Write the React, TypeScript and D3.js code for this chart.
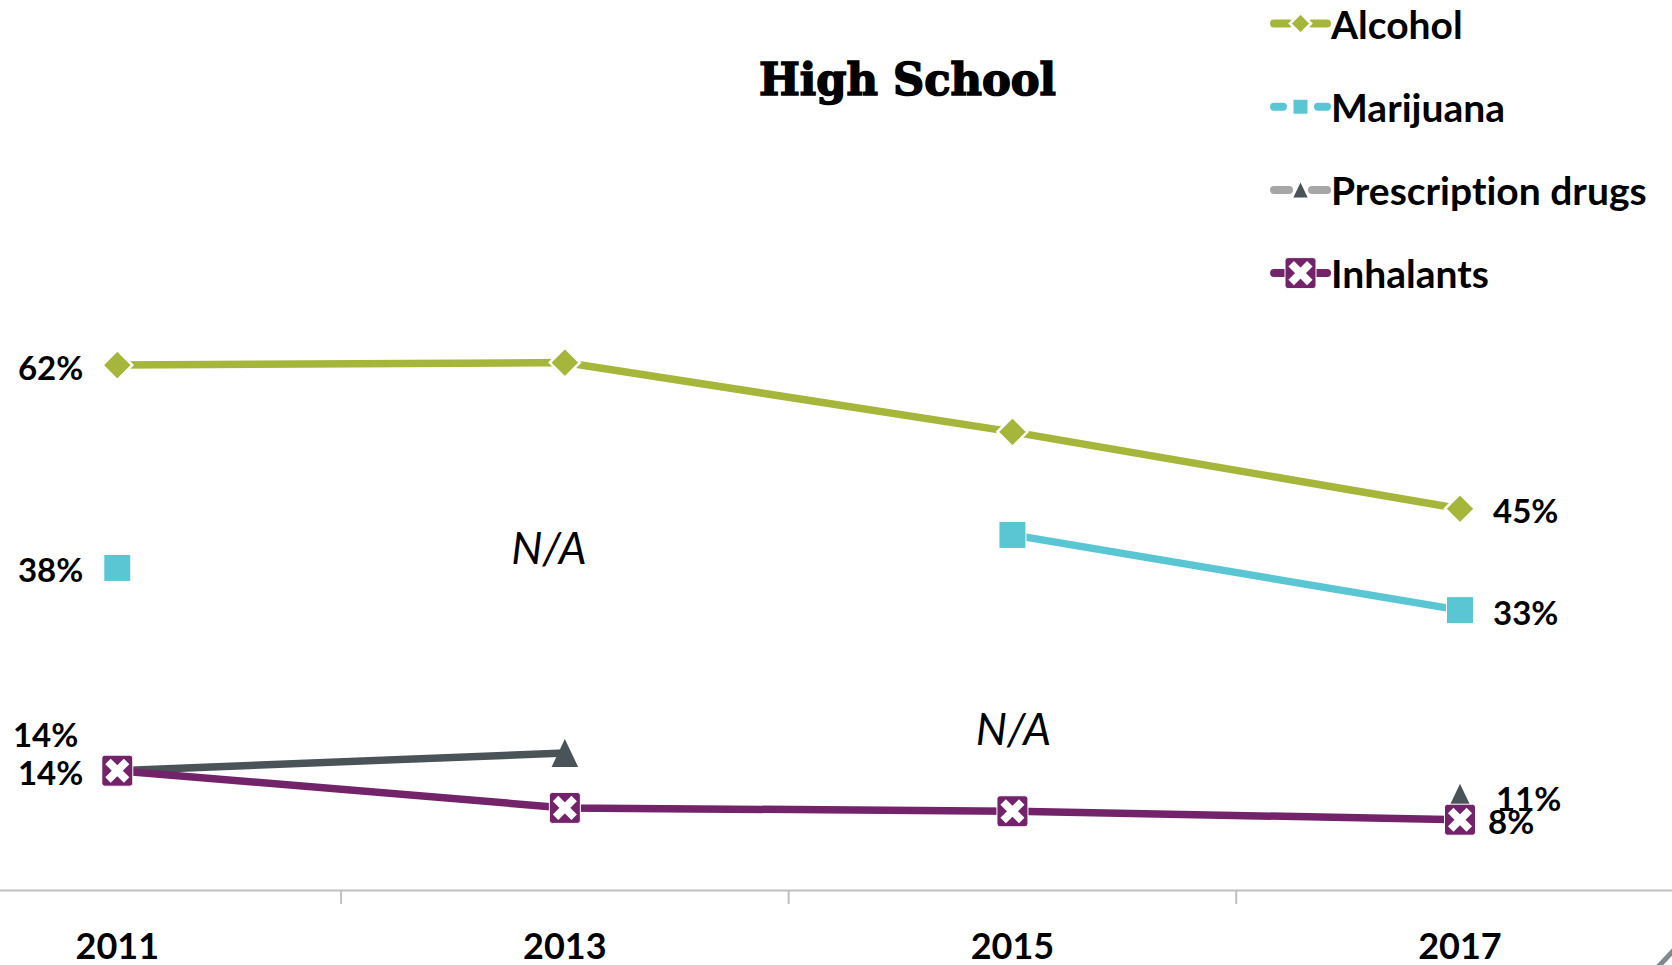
import * as d3 from "d3";

const years = ["2011", "2013", "2015", "2017"];
const alcohol: (number | null)[] = [62, 62.3, 54.1, 45];
const marijuana: (number | null)[] = [38, null, 41.9, 33];
const prescription: (number | null)[] = [14, 16.1, null, 10.8];
const inhalants: (number | null)[] = [14, 9.6, 9.2, 8.2];
const naYears = ["2013", "2015"];

type Marker = "diamond" | "square" | "triangle" | "cross";
type Series = {
  name: string;
  values: (number | null)[];
  color: string;
  legendColor: string;
  marker: Marker;
  dashed?: boolean;
};

const series: Series[] = [
  { name: "Alcohol", values: alcohol, color: "#a5b63a", legendColor: "#a5b63a", marker: "diamond" },
  { name: "Marijuana", values: marijuana, color: "#5ac6d3", legendColor: "#5ac6d3", marker: "square", dashed: true },
  { name: "Prescription drugs", values: prescription, color: "#4a5358", legendColor: "#a6a6a6", marker: "triangle" },
  { name: "Inhalants", values: inhalants, color: "#73236a", legendColor: "#73236a", marker: "cross" },
];

const W = 1672;
const H = 965;
const FONT = "Lato, 'Noto Sans', sans-serif";

// marker drawn centred on 0,0
const MarkerShape = ({ type, size, color, mark }: { type: Marker; size: number; color: string; mark: string }) => {
  const h = size / 2;
  if (type === "diamond")
    return <path d={`M0,${-h}L${h},0L0,${h}L${-h},0Z`} fill={color} stroke="#fff" strokeWidth={2.5} />;
  if (type === "square")
    return <rect x={-h} y={-h} width={size} height={size} fill={color} stroke="#fff" strokeWidth={1} />;
  if (type === "triangle")
    return <path d={`M0,${-h}L${h * 0.95},${h}L${-h * 0.95},${h}Z`} fill={mark} />;
  const c = h * 0.6;
  return (
    <g>
      <rect x={-h} y={-h} width={size} height={size} rx={3} fill={color} stroke="#fff" strokeWidth={1} />
      <path d={`M${-c},${-c}L${c},${c}M${c},${-c}L${-c},${c}`} stroke="#fff" strokeWidth={size * 0.25} />
    </g>
  );
};

const App = () => {
  const x = d3.scaleBand<string>().domain(years).range([-106.5, 1683.8]).padding(0);
  const cx = (yr: string) => (x(yr) ?? 0) + x.bandwidth() / 2;
  const y = d3.scaleLinear().domain([0, 100]).range([889, 44]);

  const line = d3
    .line<number | null>()
    .defined((d) => d != null)
    .x((_, i) => cx(years[i]))
    .y((d) => y(d as number));

  const markerSize: Record<Marker, number> = { diamond: 30, square: 27, triangle: 28, cross: 31 };
  const legendSize: Record<Marker, number> = { diamond: 21, square: 15, triangle: 15, cross: 31 };

  // label offsets (dx, dy) at first / last point, tweaked where labels collide
  const leftLabel: Record<string, [number, number]> = {
    Alcohol: [-34, 2],
    Marijuana: [-34, 1],
    "Prescription drugs": [-39, -37],
    Inhalants: [-34, 1],
  };
  const rightLabel: Record<string, [number, number]> = {
    Alcohol: [33, 1],
    Marijuana: [33, 2],
    "Prescription drugs": [36, 0],
    Inhalants: [28, 1],
  };

  const ticks = years.slice(1).map((yr) => x(yr) ?? 0);

  return (
    <svg
      width={W}
      height={H}
      style={{ position: "absolute", left: 0, top: 0, background: "#fff", fontVariantLigatures: "none" }}
    >
      <rect width={W} height={H} fill="#fff" />

      {/* title */}
      <text
        x={907.5}
        y={95}
        textAnchor="middle"
        fontFamily="'DejaVu Serif', serif"
        fontWeight="bold"
        fontSize={44}
        textLength={297}
        lengthAdjust="spacingAndGlyphs"
        fill="#000"
        stroke="#000"
        strokeWidth={1.6}
      >
        High School
      </text>

      {/* category axis */}
      <line x1={0} x2={W} y1={y(0) + 1.5} y2={y(0) + 1.5} stroke="#bfbfbf" strokeWidth={2} />
      {ticks.map((t, i) => (
        <line key={i} x1={t} x2={t} y1={y(0) + 1.5} y2={y(0) + 15} stroke="#bfbfbf" strokeWidth={2} />
      ))}
      {years.map((yr) => (
        <text
          key={yr}
          x={cx(yr)}
          y={959}
          textAnchor="middle"
          fontFamily={FONT}
          fontWeight="bold"
          fontSize={36}
          fill="#000"
        >
          {yr}
        </text>
      ))}

      {/* N/A notes */}
      {naYears.map((yr, i) => (
        <text
          key={yr}
          x={cx(yr) + (i === 0 ? -16 : 1)}
          y={i === 0 ? 547 : 728}
          textAnchor="middle"
          dominantBaseline="central"
          fontFamily={FONT}
          fontStyle="italic"
          fontSize={44}
          fill="#000"
        >
          N/A
        </text>
      ))}

      {/* lines */}
      {series.map((s) => (
        <path key={s.name} d={line(s.values) ?? ""} fill="none" stroke={s.color} strokeWidth={7.5} />
      ))}

      {/* markers */}
      {series.map((s) =>
        s.values.map((v, i) =>
          v == null ? null : (
            <g key={s.name + i} transform={`translate(${cx(years[i])},${y(v)})`}>
              <MarkerShape type={s.marker} size={markerSize[s.marker]} color={s.color} mark={s.color} />
            </g>
          )
        )
      )}

      {/* data labels */}
      {series.map((s) => {
        const first = s.values[0] as number;
        const lastIdx = s.values.length - 1;
        const last = s.values[lastIdx] as number;
        const [lx, ly] = leftLabel[s.name];
        const [rx, ry] = rightLabel[s.name];
        return (
          <g key={s.name} fontFamily={FONT} fontWeight="bold" fontSize={33} fill="#000">
            <text x={cx(years[0]) + lx} y={y(first) + ly} textAnchor="end" dominantBaseline="central">
              {Math.round(first)}%
            </text>
            <text x={cx(years[lastIdx]) + rx} y={y(last) + ry} textAnchor="start" dominantBaseline="central">
              {Math.round(last)}%
            </text>
          </g>
        );
      })}

      {/* legend */}
      {series.map((s, i) => {
        const ly = 23.5 + i * 83.2;
        const ms = legendSize[s.marker];
        return (
          <g key={s.name} transform={`translate(1271,${ly})`}>
            {s.dashed ? (
              <>
                <line x1={3} x2={12} y1={0} y2={0} stroke={s.legendColor} strokeWidth={8} strokeLinecap="round" />
                <line x1={47} x2={56} y1={0} y2={0} stroke={s.legendColor} strokeWidth={8} strokeLinecap="round" />
              </>
            ) : (
              <>
                <line x1={3} x2={18} y1={0} y2={0} stroke={s.legendColor} strokeWidth={8} strokeLinecap="round" />
                <line x1={41} x2={56} y1={0} y2={0} stroke={s.legendColor} strokeWidth={8} strokeLinecap="round" />
              </>
            )}
            <g transform="translate(29.5,0)">
              <MarkerShape type={s.marker} size={ms} color={s.legendColor} mark={s.color} />
            </g>
            <text
              x={60}
              y={0}
              dominantBaseline="central"
              fontFamily={FONT}
              fontWeight="bold"
              fontSize={39}
              fill="#000"
            >
              {s.name}
            </text>
          </g>
        );
      })}

      {/* corner decoration cut off by the crop */}
      <line x1={1657} y1={968} x2={1674} y2={950} stroke="#7f8a8f" strokeWidth={5} />
    </svg>
  );
};

export default App;
